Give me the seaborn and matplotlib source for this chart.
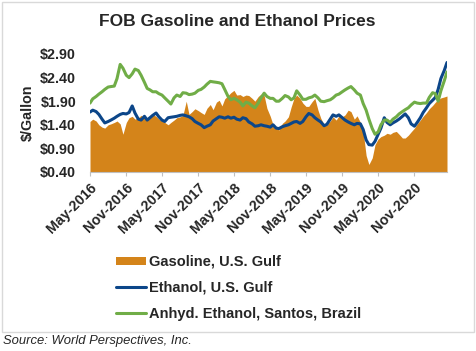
import pandas as pd
import numpy as np
import matplotlib
matplotlib.use("Agg")
import matplotlib.pyplot as plt
import matplotlib.dates as mdates
from matplotlib.patches import Rectangle, Patch
from matplotlib.lines import Line2D
import seaborn as sns

# --- data (semi-monthly) ---
dates = pd.date_range("2016-05-01", periods=120, freq="SMS")

gasoline = [
    1.47, 1.52, 1.48, 1.40, 1.35, 1.33, 1.40, 1.42, 1.45, 1.48,
    1.42, 1.20, 1.45, 1.55, 1.58, 1.52, 1.55, 1.60, 1.55, 1.55,
    1.58, 1.62, 1.58, 1.52, 1.48, 1.45, 1.40, 1.45, 1.50, 1.55,
    1.57, 1.60, 1.90, 1.62, 1.68, 1.74, 1.70, 1.66, 1.62, 1.75,
    1.83, 1.72, 1.88, 1.92, 1.80, 1.95, 2.02, 2.08, 2.13, 2.03,
    2.04, 2.00, 2.03, 2.02, 1.96, 1.90, 2.00, 2.05, 2.02, 1.75,
    1.58, 1.40, 1.33, 1.29, 1.43, 1.48, 1.57, 1.78, 1.96, 2.03,
    1.96, 1.86, 1.79, 1.79, 1.89, 1.96, 1.71, 1.54, 1.40, 1.40,
    1.48, 1.57, 1.50, 1.59, 1.57, 1.61, 1.71, 1.68, 1.52, 1.59,
    1.45, 1.25, 0.75, 0.56, 0.70, 0.98, 1.10, 1.15, 1.18, 1.22,
    1.20, 1.24, 1.26, 1.20, 1.12, 1.12, 1.18, 1.25, 1.33, 1.42,
    1.50, 1.58, 1.66, 1.74, 1.81, 1.88, 1.93, 1.97, 1.99, 2.01,
]

ethanol_us = [
    1.67, 1.71, 1.68, 1.62, 1.52, 1.44, 1.47, 1.50, 1.54, 1.58,
    1.62, 1.64, 1.63, 1.66, 1.80, 1.65, 1.52, 1.50, 1.58, 1.50,
    1.55, 1.60, 1.65, 1.57, 1.50, 1.47, 1.55, 1.56, 1.57, 1.58,
    1.60, 1.61, 1.59, 1.57, 1.53, 1.47, 1.43, 1.40, 1.34, 1.37,
    1.40, 1.48, 1.53, 1.57, 1.56, 1.54, 1.57, 1.54, 1.56, 1.52,
    1.50, 1.55, 1.53, 1.46, 1.42, 1.37, 1.38, 1.40, 1.38, 1.37,
    1.35, 1.40, 1.33, 1.32, 1.36, 1.38, 1.40, 1.43, 1.46, 1.47,
    1.43, 1.47, 1.57, 1.64, 1.61, 1.55, 1.50, 1.46, 1.38, 1.41,
    1.52, 1.61, 1.58, 1.61, 1.55, 1.50, 1.46, 1.43, 1.40, 1.43,
    1.42, 1.30, 1.08, 0.98, 0.97, 1.05, 1.20, 1.33, 1.55, 1.45,
    1.40, 1.44, 1.48, 1.52, 1.58, 1.63, 1.55, 1.42, 1.37, 1.45,
    1.55, 1.66, 1.76, 1.85, 1.92, 1.98, 2.15, 2.38, 2.55, 2.72,
]

ethanol_brazil = [
    1.86, 1.95, 2.00, 2.05, 2.10, 2.15, 2.20, 2.21, 2.22, 2.38,
    2.68, 2.60, 2.45, 2.40, 2.48, 2.58, 2.55, 2.45, 2.30, 2.17,
    2.14, 2.10, 2.10, 2.06, 2.03, 1.97, 1.90, 1.84, 1.97, 2.03,
    2.00, 2.08, 2.07, 2.04, 2.05, 2.07, 2.13, 2.15, 2.20, 2.26,
    2.32, 2.31, 2.30, 2.29, 2.27, 2.15, 2.00, 1.93, 1.96, 1.93,
    1.88, 1.80, 1.88, 1.86, 1.80, 1.76, 1.86, 1.97, 2.07, 2.00,
    1.96, 1.96, 1.90, 1.90, 1.96, 2.02, 1.99, 1.93, 1.97, 2.12,
    2.03, 1.94, 1.94, 1.97, 1.99, 2.03, 1.97, 1.90, 1.89, 1.91,
    1.93, 1.97, 2.03, 2.05, 2.10, 2.14, 2.18, 2.21, 2.14, 2.07,
    2.03, 1.85, 1.71, 1.52, 1.32, 1.20, 1.25, 1.40, 1.50, 1.50,
    1.45, 1.52, 1.57, 1.63, 1.68, 1.72, 1.76, 1.82, 1.88, 1.86,
    1.85, 1.86, 1.86, 1.98, 2.08, 2.06, 1.90, 2.12, 2.33, 2.52,
]

labels = ["Gasoline, U.S. Gulf", "Ethanol, U.S. Gulf", "Anhyd. Ethanol, Santos, Brazil"]
colors = ["#D4841A", "#0C4689", "#70AD47"]
yticks = [0.40, 0.90, 1.40, 1.90, 2.40, 2.90]

df = pd.DataFrame({"date": dates, "gas": gasoline,
                   "eth_us": ethanol_us, "eth_br": ethanol_brazil})

# --- style ---
sns.set_theme(style="white")
plt.rcParams["font.family"] = ["Liberation Sans", "DejaVu Sans"]
plt.rcParams["font.weight"] = "bold"

fig = plt.figure(figsize=(4.77, 3.51), dpi=100)
ax = fig.add_axes([90 / 477, 1 - 172 / 351, 357 / 477, 118 / 351])

ax.fill_between(df["date"], 0.4, df["gas"], color=colors[0], linewidth=0)
sns.lineplot(data=df, x="date", y="eth_us", ax=ax, color=colors[1], linewidth=2.2)
sns.lineplot(data=df, x="date", y="eth_br", ax=ax, color=colors[2], linewidth=2.2)

ax.set_xlim(df["date"].iloc[0], df["date"].iloc[-1])
ax.set_ylim(0.4, 2.9)
ax.set_yticks(yticks)
ax.yaxis.set_major_formatter(matplotlib.ticker.StrMethodFormatter("${x:.2f}"))
ax.xaxis.set_major_locator(mdates.MonthLocator(bymonth=[5, 11], bymonthday=1))
ax.xaxis.set_major_formatter(mdates.DateFormatter("%b-%Y"))

for lbl in ax.get_xticklabels():
    lbl.set_rotation(45)
    lbl.set_ha("right")
    lbl.set_rotation_mode("anchor")
ax.tick_params(axis="x", labelsize=10.3, bottom=True, length=3, width=0.8,
               color="#BFBFBF", pad=3, direction="out")
ax.tick_params(axis="y", labelsize=10.3, left=False, length=0, pad=10)
for lbl in ax.get_xticklabels() + ax.get_yticklabels():
    lbl.set_fontweight("bold")

ax.set_xlabel("")
ax.set_ylabel("$/Gallon", fontsize=10.3, fontweight="bold", labelpad=4)
for s in ["left", "right", "top"]:
    ax.spines[s].set_visible(False)
ax.spines["bottom"].set_color("#BFBFBF")
ax.spines["bottom"].set_linewidth(0.8)
ax.patch.set_alpha(0)

fig.text(237 / 477, 1 - 22 / 351, "FOB Gasoline and Ethanol Prices",
         ha="center", va="center", fontsize=12.5, fontweight="bold")

handles = [Patch(facecolor=colors[0], edgecolor="none"),
           Line2D([], [], color=colors[1], linewidth=2.2),
           Line2D([], [], color=colors[2], linewidth=2.2)]
fig.legend(handles, labels, loc="upper left",
           bbox_to_anchor=(116 / 477, 1 - 255 / 351),
           frameon=False, borderpad=0, borderaxespad=0,
           handlelength=2.05, handleheight=0.5, handletextpad=0.22,
           labelspacing=0.82, prop={"size": 10.5, "weight": "bold"})

fig.patches.append(Rectangle((2 / 477, 1 - 332 / 351), 472 / 477, 330 / 351,
                             transform=fig.transFigure, fill=False,
                             edgecolor="#D9D9D9", linewidth=1))

fig.text(3 / 477, 1 - 341 / 351, "Source: World Perspectives, Inc.",
         ha="left", va="center", fontsize=9.4, style="italic",
         fontweight="normal", color="#262626")

fig.savefig("out.png", dpi=100)
